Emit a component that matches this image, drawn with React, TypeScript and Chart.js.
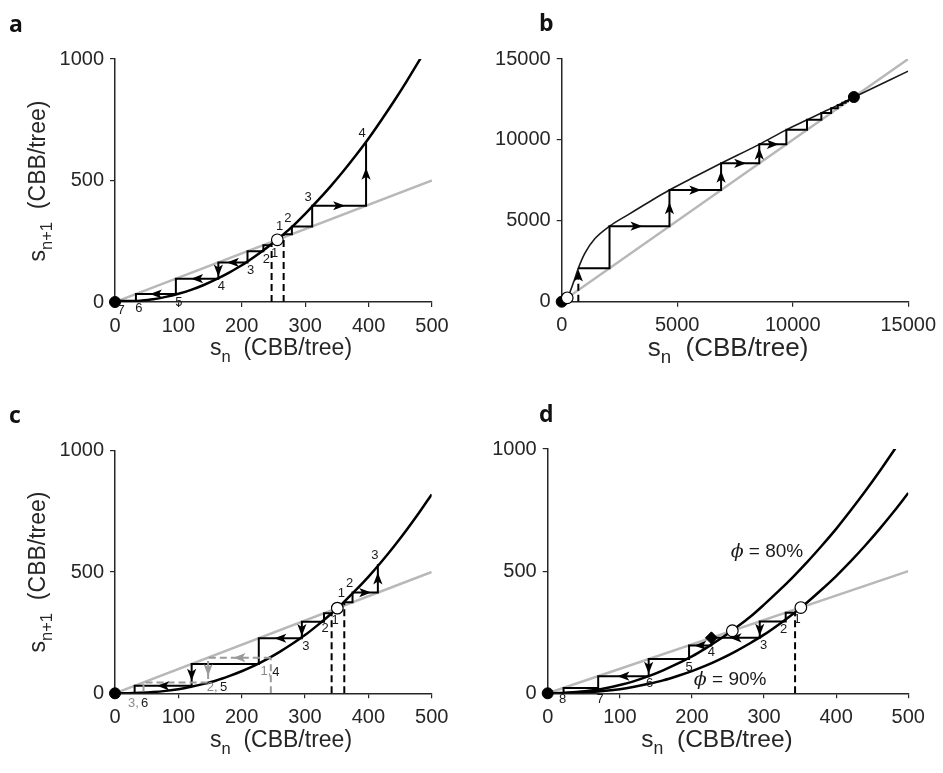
import React, { useEffect, useRef } from 'react';
import { Chart, registerables } from 'chart.js';
Chart.register(...registerables);

// ---------------- DATA ----------------
const xTicksSmall = [0, 100, 200, 300, 400, 500];
const yTicksSmall = [0, 500, 1000];
const ticksLarge = [0, 5000, 10000, 15000];

// phi = 80% map (panel a and upper curve of d)
const map80X = [0, 20, 40, 60, 80, 100, 120, 140, 160, 180, 200, 220, 240, 255, 260, 280, 300, 320, 340, 360, 380, 400, 420, 440, 460, 480, 490];
const map80Y = [0, 1, 5, 11, 21, 34, 50, 70, 94, 121, 151, 186, 224, 255, 266, 311, 363, 418, 476, 538, 604, 673, 748, 826, 908, 994, 1038];
// phi = 90% map (panel c and lower curve of d)
const map90X = [0, 20, 40, 60, 80, 100, 120, 140, 160, 180, 200, 220, 240, 260, 280, 300, 320, 340, 351, 360, 380, 400, 420, 440, 460, 480, 500];
const map90Y = [0, 0.4, 2, 5, 10, 17, 27, 39, 53, 71, 91, 114, 141, 171, 204, 240, 281, 325, 351, 373, 425, 480, 540, 604, 672, 744, 820];
// panel b map
const mapBX = [0, 120, 250, 500, 720, 1000, 1440, 2070, 2900, 3800, 4665, 5800, 6900, 8553, 9725, 10620, 11240, 11665, 12600, 15000];
const mapBY = [0, 60, 250, 1150, 2070, 2990, 3900, 4665, 5400, 6180, 6900, 7750, 8553, 9725, 10620, 11240, 11665, 11950, 12600, 14250];

// cobweb iterates s_0, s_1, ...
const cobAUp = [266, 279, 311, 396, 660];
const cobADown = [247, 234, 209, 163, 96, 33, 5, 0];
const cobB = [720, 2070, 4665, 6900, 8553, 9725, 10620, 11240, 11665, 11950, 12150, 12290, 12390, 12460];
const cobCUp = [362, 375, 415, 532];
const cobCDown = [342, 330, 295, 227, 121, 31, 3];
const cobCGray = [246, 147, 45, 3];
const cobD = [343, 330, 294, 227, 196, 140, 70, 22, 3];

// equilibria
const eqA = { stable: [0, 0], unstable: [256, 256] };
const eqB = { stable: [0, 0], unstable: [240, 240], upper: [12650, 12650] };
const eqC = { stable: [0, 0], unstable: [351, 351] };
const eqD = { stable: [0, 0], unstable80: [256, 256], unstable90: [351, 351], switchPt: [227, 227] };

const labelsAUp = ['1', '2', '3', '4'];
const labelsADown = ['1', '2', '3', '4', '5', '6', '7'];
const labelsCUp = ['1', '2', '3'];
const labelsCDown = ['1', '2', '3', '4', '5', '6'];
const labelsCGray = ['1,', '2,', '3,'];
const labelsD = ['1', '2', '3', '4', '5', '6', '7', '8'];

// ---------------- STYLE ----------------
const FONT = '"Liberation Sans", Arial, Helvetica, sans-serif';
const AXIS = '#262626';
const DIAG = '#b8b8b8';
const GRAYCOB = '#9a9a9a';

type Pt = { x: number; y: number };
type Cobweb = {
  s: number[];
  color: string;
  dashedAll?: boolean;
  arrows: number[][]; // [segment index, fraction]; -1 = starting dashed segment
  labels: string[];
  offsets: number[][];
  defOffset: number[];
  labelColor: string;
};
type Marker = { p: number[]; kind: 'filled' | 'open' | 'diamond' };
type Panel = {
  canvas: { left: number; top: number; w: number; h: number };
  area: { l: number; t: number; r: number; b: number };
  xMax: number;
  yMax: number;
  xTicks: number[];
  yTicks: number[];
  curves: { x: number[]; y: number[]; w: number; color: string }[];
  cobwebs: Cobweb[];
  markers: Marker[];
  texts: { x: number; y: number; value: string }[];
};

const zip = (xs: number[], ys: number[]): Pt[] => xs.map((x, i) => ({ x, y: ys[i] }));

function cobwebPoints(s: number[]): Pt[] {
  const pts: Pt[] = [{ x: s[0], y: s[1] }];
  for (let k = 1; k <= s.length - 2; k++) {
    pts.push({ x: s[k], y: s[k] });
    pts.push({ x: s[k], y: s[k + 1] });
  }
  return pts;
}

const panels: Panel[] = [
  {
    canvas: { left: 0, top: 0, w: 471, h: 386 },
    area: { l: 115, t: 59, r: 432, b: 302 },
    xMax: 500, yMax: 1000, xTicks: xTicksSmall, yTicks: yTicksSmall,
    curves: [{ x: map80X, y: map80Y, w: 2.5, color: '#000' }],
    cobwebs: [
      { s: cobAUp, color: '#000', arrows: [[4, 0.5], [5, 0.5]], labels: labelsAUp, offsets: [], defOffset: [-4, -8], labelColor: '#1a1a1a' },
      { s: cobADown, color: '#000', arrows: [[4, 0.5], [5, 0.5], [6, 0.5], [8, 0.5]], labels: labelsADown, offsets: [], defOffset: [3, 8], labelColor: '#1a1a1a' },
    ],
    markers: [
      { p: eqA.unstable, kind: 'open' },
      { p: eqA.stable, kind: 'filled' },
    ],
    texts: [],
  },
  {
    canvas: { left: 471, top: 0, w: 472, h: 386 },
    area: { l: 561.7, t: 59, r: 908.3, b: 301.7 },
    xMax: 15000, yMax: 15000, xTicks: ticksLarge, yTicks: ticksLarge,
    curves: [{ x: mapBX, y: mapBY, w: 1.6, color: '#1a1a1a' }],
    cobwebs: [
      { s: cobB, color: '#000', arrows: [[-1, 0.78], [2, 0.45], [3, 0.5], [4, 0.5], [5, 0.5], [6, 0.5], [7, 0.5], [8, 0.5]], labels: [], offsets: [], defOffset: [0, 0], labelColor: '#000' },
    ],
    markers: [
      { p: eqB.unstable, kind: 'open' },
      { p: eqB.stable, kind: 'filled' },
      { p: eqB.upper, kind: 'filled' },
    ],
    texts: [],
  },
  {
    canvas: { left: 0, top: 386, w: 471, h: 387 },
    area: { l: 115, t: 450.7, r: 431.7, b: 693.3 },
    xMax: 500, yMax: 1000, xTicks: xTicksSmall, yTicks: yTicksSmall,
    curves: [{ x: map90X, y: map90Y, w: 2.5, color: '#000' }],
    cobwebs: [
      { s: cobCUp, color: '#000', arrows: [[2, 0.5], [3, 0.5]], labels: labelsCUp, offsets: [], defOffset: [-3, -9], labelColor: '#1a1a1a' },
      { s: cobCGray, color: GRAYCOB, dashedAll: true, arrows: [[0, 0.5], [1, 0.5]], labels: labelsCGray, offsets: [[-5, 14], [4, 5], [-10, 11]], defOffset: [0, 8], labelColor: '#8a8a8a' },
      { s: cobCDown, color: '#000', arrows: [[3, 0.5], [4, 0.5], [7, 0.5], [8, 0.5]], labels: labelsCDown, offsets: [[3.5, 7.5], [1, 7], [4, 8], [17, 8], [32, 1.5], [10, 11]], defOffset: [3, 8], labelColor: '#1a1a1a' },
    ],
    markers: [
      { p: eqC.unstable, kind: 'open' },
      { p: eqC.stable, kind: 'filled' },
    ],
    texts: [],
  },
  {
    canvas: { left: 471, top: 386, w: 472, h: 387 },
    area: { l: 547.7, t: 449, r: 908.3, b: 693.3 },
    xMax: 500, yMax: 1000, xTicks: xTicksSmall, yTicks: yTicksSmall,
    curves: [
      { x: map80X, y: map80Y, w: 2.5, color: '#000' },
      { x: map90X, y: map90Y, w: 2.5, color: '#000' },
    ],
    cobwebs: [
      { s: cobD, color: '#000', arrows: [[3, 0.5], [4, 0.5], [6, 0.5], [9, 0.5], [10, 0.5]], labels: labelsD, offsets: [[2, 7], [-2, 8], [4, 8], [0, 7], [0, 8], [1, 7], [2, 11], [-1, 7]], defOffset: [1, 8], labelColor: '#1a1a1a' },
    ],
    markers: [
      { p: eqD.unstable80, kind: 'open' },
      { p: eqD.unstable90, kind: 'open' },
      { p: eqD.switchPt, kind: 'diamond' },
      { p: eqD.stable, kind: 'filled' },
    ],
    texts: [
      { x: 304, y: 578, value: '80%' },
      { x: 253, y: 55, value: '90%' },
    ],
  },
];

function drawArrow(ctx: CanvasRenderingContext2D, x: number, y: number, ang: number, color: string) {
  const L = 12, W = 4.6;
  ctx.save();
  ctx.translate(x, y);
  ctx.rotate(ang);
  ctx.beginPath();
  ctx.moveTo(L / 2, 0);
  ctx.lineTo(-L / 2, W);
  ctx.lineTo(-L / 4, 0);
  ctx.lineTo(-L / 2, -W);
  ctx.closePath();
  ctx.fillStyle = color;
  ctx.fill();
  ctx.restore();
}

function makeOverlay(p: Panel) {
  return {
    id: 'overlay',
    afterDatasetsDraw(chart: any) {
      const ctx: CanvasRenderingContext2D = chart.ctx;
      const xs = chart.scales.x, ys = chart.scales.y;
      const px = (v: number) => xs.getPixelForValue(v);
      const py = (v: number) => ys.getPixelForValue(v);
      p.cobwebs.forEach((c) => {
        const pts = cobwebPoints(c.s);
        c.arrows.forEach(([seg, t]) => {
          let a: Pt, b: Pt;
          if (seg < 0) { a = { x: c.s[0], y: 0 }; b = { x: c.s[0], y: c.s[1] }; }
          else { a = pts[seg]; b = pts[seg + 1]; }
          const ax = px(a.x), ay = py(a.y), bx = px(b.x), by = py(b.y);
          const ang = Math.atan2(by - ay, bx - ax);
          drawArrow(ctx, ax + (bx - ax) * t, ay + (by - ay) * t, ang, c.color);
        });
        ctx.save();
        ctx.font = `13px ${FONT}`;
        ctx.textAlign = 'center';
        ctx.textBaseline = 'middle';
        ctx.fillStyle = c.labelColor;
        c.labels.forEach((lab, k) => {
          const off = c.offsets[k] || c.defOffset;
          ctx.fillText(lab, px(c.s[k]) + off[0], py(c.s[k + 1]) + off[1]);
        });
        ctx.restore();
      });
      p.texts.forEach((t) => {
        ctx.save();
        const f1 = `italic 19px "DejaVu Serif", serif`;
        const f2 = `19px ${FONT}`;
        const s2 = ' = ' + t.value;
        ctx.font = f1; const w1 = ctx.measureText('\u03D5').width;
        ctx.font = f2; const w2 = ctx.measureText(s2).width;
        const x0 = px(t.x) - (w1 + w2) / 2, y0 = py(t.y);
        ctx.textBaseline = 'middle';
        ctx.textAlign = 'left';
        ctx.fillStyle = '#1a1a1a';
        ctx.font = f1; ctx.fillText('\u03D5', x0, y0);
        ctx.font = f2; ctx.fillText(s2, x0 + w1, y0);
        ctx.restore();
      });
    },
  };
}

function buildDatasets(p: Panel): any[] {
  const ds: any[] = [];
  p.markers.forEach((m) => {
    const base: any = { data: [{ x: m.p[0], y: m.p[1] }], showLine: false, clip: false, borderColor: '#000', borderWidth: 1 };
    if (m.kind === 'filled') Object.assign(base, { pointRadius: 5.5, pointStyle: 'circle', backgroundColor: '#000' });
    if (m.kind === 'open') Object.assign(base, { pointRadius: 5.8, pointStyle: 'circle', backgroundColor: '#fff', borderWidth: 1.2 });
    if (m.kind === 'diamond') Object.assign(base, { pointRadius: 6, pointStyle: 'rectRot', backgroundColor: '#000' });
    ds.push(base);
  });
  p.cobwebs.forEach((c) => {
    ds.push({ data: cobwebPoints(c.s), showLine: true, borderColor: c.color, borderWidth: 2, borderDash: c.dashedAll ? [7, 4] : [], pointRadius: 0, borderJoinStyle: 'miter', tension: 0 });
    ds.push({ data: [{ x: c.s[0], y: 0 }, { x: c.s[0], y: c.s[1] }], showLine: true, borderColor: c.color, borderWidth: 2, borderDash: [7, 4], pointRadius: 0 });
  });
  p.curves.forEach((cv) => {
    ds.push({ data: zip(cv.x, cv.y), showLine: true, borderColor: cv.color, borderWidth: cv.w, pointRadius: 0, tension: 0.35, cubicInterpolationMode: 'monotone' });
  });
  ds.push({ data: [{ x: 0, y: 0 }, { x: p.xMax, y: p.xMax }], showLine: true, borderColor: DIAG, borderWidth: 2.5, pointRadius: 0 });
  return ds;
}

function axisOpts(p: Panel, which: 'x' | 'y'): any {
  const ticks = which === 'x' ? p.xTicks : p.yTicks;
  return {
    type: 'linear',
    min: 0,
    max: which === 'x' ? p.xMax : p.yMax,
    afterBuildTicks: (s: any) => { s.ticks = ticks.map((v) => ({ value: v })); },
    afterFit: (s: any) => {
      if (which === 'x') s.height = p.canvas.top + p.canvas.h - p.area.b;
      else s.width = p.area.l - p.canvas.left;
    },
    grid: { display: true, drawOnChartArea: false, drawTicks: true, tickLength: 5, color: AXIS, lineWidth: 1.2 },
    border: { display: true, color: AXIS, width: 1.5 },
    ticks: { font: { family: FONT, size: 20 }, color: AXIS, padding: which === 'x' ? 7 : 6, maxRotation: 0, autoSkip: false, callback: (v: any) => String(v) },
  };
}

function PanelChart({ p }: { p: Panel }) {
  const ref = useRef<HTMLCanvasElement>(null);
  useEffect(() => {
    const chart = new Chart(ref.current as HTMLCanvasElement, {
      type: 'scatter',
      data: { datasets: buildDatasets(p) },
      options: {
        responsive: false,
        animation: false,
        events: [],
        layout: { padding: { left: 0, top: p.area.t - p.canvas.top, right: p.canvas.left + p.canvas.w - p.area.r, bottom: 0 } },
        plugins: { legend: { display: false }, tooltip: { enabled: false } },
        scales: { x: axisOpts(p, 'x'), y: axisOpts(p, 'y') },
      } as any,
      plugins: [makeOverlay(p)],
    });
    return () => chart.destroy();
  }, []);
  return (
    <canvas
      ref={ref}
      width={p.canvas.w}
      height={p.canvas.h}
      style={{ position: 'absolute', left: p.canvas.left, top: p.canvas.top, width: p.canvas.w, height: p.canvas.h }}
    />
  );
}

const subStyle: React.CSSProperties = { fontSize: '0.72em', position: 'relative', top: '0.4em' };

function XTitle({ x, y, size }: { x: number; y: number; size: number }) {
  return (
    <div style={{ position: 'absolute', left: x, top: y, transform: 'translate(-50%,-50%)', fontFamily: FONT, fontSize: size, color: AXIS, whiteSpace: 'nowrap', lineHeight: 1 }}>
      s<span style={subStyle}>n</span>&nbsp; (CBB/tree)
    </div>
  );
}

function YTitle({ x, y, size }: { x: number; y: number; size: number }) {
  return (
    <div style={{ position: 'absolute', left: x, top: y, transform: 'translate(-50%,-50%) rotate(-90deg)', fontFamily: FONT, fontSize: size, color: AXIS, whiteSpace: 'nowrap', lineHeight: 1 }}>
      s<span style={subStyle}>n+1</span>&nbsp; (CBB/tree)
    </div>
  );
}

function Letter({ x, y, t }: { x: number; y: number; t: string }) {
  return (
    <div style={{ position: 'absolute', left: x, top: y, fontFamily: '"Open Sans", "DejaVu Sans", sans-serif', fontWeight: 700, fontSize: 23, lineHeight: 1, color: '#111' }}>{t}</div>
  );
}

export default function App() {
  return (
    <div style={{ position: 'absolute', left: 0, top: 0, width: 943, height: 773, background: '#fff', overflow: 'hidden' }}>
      {panels.map((p, i) => <PanelChart key={i} p={p} />)}
      <Letter x={9} y={12} t="a" />
      <Letter x={539} y={11} t="b" />
      <Letter x={9} y={403} t="c" />
      <Letter x={539} y={402} t="d" />
      <XTitle x={281} y={347} size={23} />
      <XTitle x={728} y={347} size={26} />
      <XTitle x={281} y={739} size={23} />
      <XTitle x={717} y={739} size={24.5} />
      <YTitle x={37} y={181} size={23} />
      <YTitle x={37} y={572} size={23} />
    </div>
  );
}
